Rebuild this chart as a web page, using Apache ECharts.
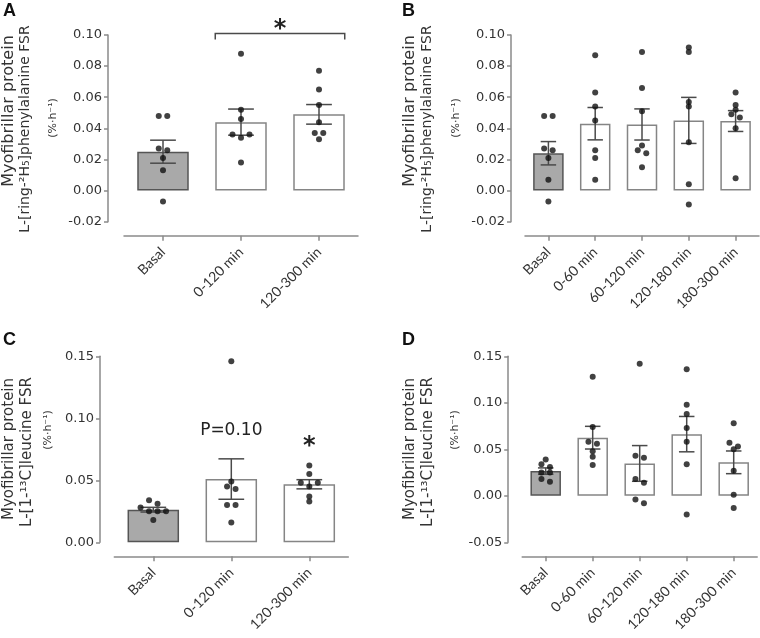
<!DOCTYPE html>
<html><head><meta charset="utf-8">
<script src="https://cdn.jsdelivr.net/npm/echarts@6/dist/echarts.min.js"></script>
<style>html,body{margin:0;padding:0;background:#fff}#c{width:760px;height:638px}</style>
</head><body><div id="c"></div>
<script>
// ---------- data ----------
const catsShort = ['Basal', '0-120 min', '120-300 min'];
const catsLong = ['Basal', '0-60 min', '60-120 min', '120-180 min', '180-300 min'];

const yTitlePhe = ['Myofibrillar protein', 'L-[ring-\u00b2H\u2085]phenylalanine FSR', '(%\u00b7h\u207b\u00b9)'];
const yTitleLeu = ['Myofibrillar protein', 'L-[1-\u00b9\u00b3C]leucine FSR', '(%\u00b7h\u207b\u00b9)'];

// Panel A
const meanA = [0.025, 0.044, 0.049];
const semA = [0.0074, 0.0084, 0.0063];
const ptsA = [
  [0.048, 0.048, 0.027, 0.026, 0.021, 0.013, -0.007],
  [0.088, 0.052, 0.046, 0.036, 0.036, 0.034, 0.018],
  [0.077, 0.065, 0.055, 0.044, 0.037, 0.037, 0.033]
];
const bracketA = [[1, 2, 0.101]];
const bracketTextA = '*';

// Panel B
const meanB = [0.024, 0.043, 0.0425, 0.0451, 0.0447];
const semB = [0.0075, 0.0104, 0.0100, 0.0148, 0.0067];
const ptsB = [
  [0.048, 0.048, 0.027, 0.026, 0.021, 0.007, -0.007],
  [0.087, 0.063, 0.054, 0.045, 0.026, 0.021, 0.007],
  [0.089, 0.066, 0.051, 0.029, 0.026, 0.024, 0.015],
  [0.092, 0.089, 0.057, 0.054, 0.031, 0.004, -0.009],
  [0.063, 0.055, 0.052, 0.049, 0.047, 0.040, 0.008]
];

// Panel C
const meanC = [0.0263, 0.051, 0.0468];
const semC = [0.0019, 0.0163, 0.0037];
const ptsC = [
  [0.034, 0.031, 0.028, 0.025, 0.025, 0.025, 0.018],
  [0.146, 0.049, 0.045, 0.043, 0.030, 0.030, 0.016],
  [0.062, 0.055, 0.048, 0.048, 0.045, 0.037, 0.033]
];
const annotC = [[1, 0.0904, 'P=0.10', 17, 'normal'], [2, 0.0771, '*', 24, 'bold']];

// Panel D
const meanD = [0.0266, 0.0625, 0.0348, 0.0663, 0.036];
const semD = [0.0034, 0.0122, 0.0192, 0.0190, 0.0122];
const ptsD = [
  [0.039, 0.034, 0.031, 0.025, 0.025, 0.018, 0.015],
  [0.128, 0.074, 0.058, 0.056, 0.048, 0.042, 0.033],
  [0.142, 0.043, 0.041, 0.018, 0.014, -0.004, -0.008],
  [0.136, 0.098, 0.088, 0.073, 0.058, 0.034, -0.020],
  [0.078, 0.057, 0.053, 0.050, 0.027, 0.001, -0.013]
];

// ---------- layout / style ----------
const FONT = 'DejaVu Sans';
const XFONT = 'Lato';
const AXIS_COLOR = '#8a8a8a';
const TEXT_COLOR = '#333';
const panels = [
  {letter:'A', lx:3, ly:11, cats:catsShort, mean:meanA, sem:semA, pts:ptsA, title:yTitlePhe,
   grid:{left:124, top:35, width:234, height:186.7}, xmax:2.5, yoff:16, ymin:-0.02, ymax:0.10, yint:0.02, bw:51.5,
   tx:[9, 25, 53], ty:[111, 129, 118], tfs:[16, 14, 11]},
  {letter:'B', lx:402, ly:11, cats:catsLong, mean:meanB, sem:semB, pts:ptsB, title:yTitlePhe,
   grid:{left:525, top:35, width:234, height:186.7}, xmax:4.5, yoff:14, ymin:-0.02, ymax:0.10, yint:0.02, bw:30.5,
   tx:[410, 427, 456], ty:[111, 129, 118], tfs:[16, 14, 11]},
  {letter:'C', lx:3, ly:340, cats:catsShort, mean:meanC, sem:semC, pts:ptsC, title:yTitleLeu,
   grid:{left:114.3, top:356.3, width:234, height:186}, xmax:2.5, yoff:14.3, ymin:0, ymax:0.15, yint:0.05, bw:51.5,
   tx:[9, 27, 48], ty:[449, 452, 430], tfs:[15, 15, 11]},
  {letter:'D', lx:402, ly:340, cats:catsLong, mean:meanD, sem:semD, pts:ptsD, title:yTitleLeu,
   grid:{left:522.2, top:356.3, width:235, height:186}, xmax:4.5, yoff:14, ymin:-0.05, ymax:0.15, yint:0.05, bw:30.5,
   tx:[410, 428, 455], ty:[449, 452, 430], tfs:[15, 15, 11]}
];

const DOT_SPACING = 8.5; // px between jittered dots
const ROW_THRESH = 4.3;  // px: points closer than this share a row

function jitterSlots(vals, pxPerUnit) {
  const order = vals.map((v, i) => i).sort((a, b) => vals[b] - vals[a]);
  const slots = new Array(vals.length).fill(0);
  let row = [];
  const flush = () => {
    const n = row.length;
    let pos = [];
    for (let k = 0; k < n; k++) pos.push(k - (n - 1) / 2);
    if (n % 2 === 1 && n > 1) { pos = pos.filter(p => p !== 0); pos.push(0); }
    row.forEach((idx, k) => { slots[idx] = pos[k]; });
    row = [];
  };
  let start = null;
  order.forEach(idx => {
    const v = vals[idx];
    if (start === null || (start - v) * pxPerUnit >= ROW_THRESH) { flush(); start = v; }
    row.push(idx);
  });
  flush();
  return slots;
}

const grids = [], xAxes = [], yAxes = [], series = [], graphics = [];

panels.forEach((p, pi) => {
  grids.push(Object.assign({containLabel:false}, p.grid));
  const ticks = p.cats.map((c, i) => i);
  xAxes.push({
    type:'value', gridIndex:pi, min:-0.5, max:p.xmax, offset:14,
    axisLine:{show:true, onZero:false, lineStyle:{color:AXIS_COLOR, width:1.5}},
    axisTick:{show:true, customValues:ticks, length:5, lineStyle:{color:AXIS_COLOR, width:1.5}},
    axisLabel:{show:true, customValues:ticks, rotate:45, margin:14, color:TEXT_COLOR,
      fontFamily:XFONT, fontSize:14, formatter:(v) => p.cats[Math.round(v)]},
    splitLine:{show:false}
  });
  yAxes.push({
    type:'value', gridIndex:pi, min:p.ymin, max:p.ymax, interval:p.yint, offset:p.yoff,
    axisLine:{show:true, onZero:false, lineStyle:{color:AXIS_COLOR, width:1.5}},
    axisTick:{show:true, length:4, lineStyle:{color:AXIS_COLOR, width:1.5}},
    axisLabel:{color:TEXT_COLOR, fontFamily:FONT, fontSize:13, margin:6,
      formatter:(v) => v.toFixed(2)},
    splitLine:{show:false}
  });
  // bars
  series.push({
    type:'bar', xAxisIndex:pi, yAxisIndex:pi, barWidth:p.bw, z:2,
    data:p.mean.map((m, i) => ({
      value:[i, m],
      itemStyle: i === 0
        ? {color:'#a9a9a9', borderColor:'#555', borderWidth:1.5}
        : {color:'#ffffff', borderColor:'#858585', borderWidth:1.5}
    }))
  });
  // error bars (mean ± SEM)
  series.push({
    type:'custom', xAxisIndex:pi, yAxisIndex:pi, z:3,
    data:p.mean.map((m, i) => [i, m, p.sem[i]]),
    renderItem:(params, api) => {
      const x = api.value(0), m = api.value(1), s = api.value(2);
      const top = api.coord([x, m + s]), bot = api.coord([x, m - s]);
      const h = api.size([1, 0])[0] * 0.165;
      const st = {stroke:'#4a4a4a', lineWidth:1.5};
      return {type:'group', children:[
        {type:'line', shape:{x1:top[0], y1:top[1], x2:bot[0], y2:bot[1]}, style:st},
        {type:'line', shape:{x1:top[0]-h, y1:top[1], x2:top[0]+h, y2:top[1]}, style:st},
        {type:'line', shape:{x1:bot[0]-h, y1:bot[1], x2:bot[0]+h, y2:bot[1]}, style:st}
      ]};
    }
  });
  // individual points
  const pxPerUnit = p.grid.height / (p.ymax - p.ymin);
  const pdata = [];
  p.pts.forEach((vals, ci) => {
    const slots = jitterSlots(vals, pxPerUnit);
    vals.forEach((v, k) => pdata.push({value:[ci, v], symbolOffset:[slots[k] * DOT_SPACING, 0]}));
  });
  series.push({
    type:'scatter', xAxisIndex:pi, yAxisIndex:pi, z:4, symbol:'circle', symbolSize:6,
    itemStyle:{color:'#111'}, data:pdata, silent:true
  });
  // panel letter
  graphics.push({type:'text', x:p.lx, y:p.ly, style:{text:p.letter, fontFamily:'Liberation Sans',
    fontWeight:'bold', fontSize:18, fill:'#111', align:'left', verticalAlign:'middle'}});
  // y-axis title lines
  p.title.forEach((t, k) => {
    graphics.push({type:'text', x:p.tx[k], y:p.ty[k], rotation:Math.PI / 2,
      style:{text:t, fontFamily:FONT, fontSize:p.tfs[k], fill:TEXT_COLOR, align:'center', verticalAlign:'middle'}});
  });
});

// significance bracket panel A
series.push({
  type:'custom', xAxisIndex:0, yAxisIndex:0, z:5, clip:false,
  data:bracketA,
  renderItem:(params, api) => {
    const a = api.coord([api.value(0), api.value(2)]);
    const b = api.coord([api.value(1), api.value(2)]);
    const h = api.size([1, 0])[0] * 0.33;
    const st = {stroke:'#4a4a4a', lineWidth:1.5, fill:null};
    return {type:'group', children:[
      {type:'polyline', shape:{points:[[a[0]-h, a[1]+6], [a[0]-h, a[1]], [b[0]+h, b[1]], [b[0]+h, b[1]+6]]}, style:st},
      {type:'text', x:(a[0] + b[0]) / 2, y:a[1] + 8, style:{text:bracketTextA, fontFamily:FONT, fontWeight:'bold',
        fontSize:24, fill:'#222', align:'center', verticalAlign:'bottom'}}
    ]};
  }
});

// annotations panel C
series.push({
  type:'custom', xAxisIndex:2, yAxisIndex:2, z:5, clip:false,
  data:annotC.map(a => [a[0], a[1]]),
  renderItem:(params, api) => {
    const a = annotC[params.dataIndex];
    const c = api.coord([api.value(0), api.value(1)]);
    return {type:'text', x:c[0], y:c[1], style:{text:a[2], fontFamily:FONT, fontWeight:a[4],
      fontSize:a[3], fill:'#222', align:'center', verticalAlign:'middle'}};
  }
});

const chart = echarts.init(document.getElementById('c'), null, {renderer:'canvas'});
chart.setOption({
  animation:false,
  backgroundColor:'#fff',
  grid:grids, xAxis:xAxes, yAxis:yAxes, series:series, graphic:graphics
});
</script>
</body></html>
